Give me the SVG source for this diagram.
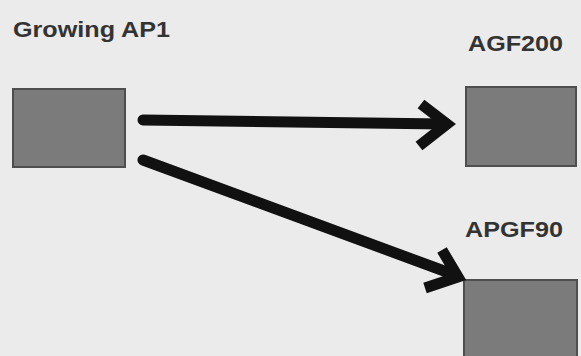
<svg xmlns="http://www.w3.org/2000/svg" width="581" height="356" viewBox="0 0 581 356">
  <style>
    .bg { fill: #ebebeb; }
    .box { fill: #7b7b7b; stroke: #4e4e4e; stroke-width: 2; }
    .label { font-family: "Liberation Sans", Arial, sans-serif; font-weight: bold; fill: #333; }
    .shaft { fill: none; stroke: #111; stroke-width: 11; stroke-linecap: round; }
    .head { fill: none; stroke: #111; stroke-width: 11; stroke-linecap: butt; stroke-linejoin: miter; }
  </style>
  <rect class="bg" x="0" y="0" width="581" height="356"/>

  <g id="growing-ap1">
    <text class="label" x="13" y="37" font-size="22" textLength="157" lengthAdjust="spacingAndGlyphs">Growing  AP1</text>
    <rect class="box" x="13" y="89" width="112" height="78"/>
  </g>

  <g id="agf200">
    <text class="label" x="468" y="51" font-size="22" textLength="95" lengthAdjust="spacingAndGlyphs">AGF200</text>
    <rect class="box" x="466" y="87" width="110" height="79"/>
  </g>

  <g id="apgf90">
    <text class="label" x="465" y="237" font-size="22" textLength="98" lengthAdjust="spacingAndGlyphs">APGF90</text>
    <rect class="box" x="464" y="280" width="113" height="80"/>
  </g>

  <g id="connectors">
    <line class="shaft" x1="143" y1="120" x2="444" y2="124"/>
    <polyline class="head" points="421,104 447,124 419,146"/>
    <line class="shaft" x1="143" y1="160" x2="455" y2="275"/>
    <polyline class="head" points="442,250 458,277 425,288"/>
  </g>
</svg>
